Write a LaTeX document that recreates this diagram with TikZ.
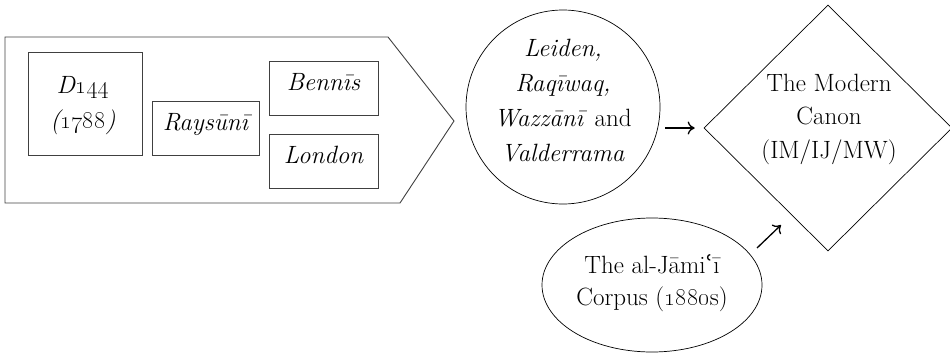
\documentclass[tikz,border=0pt]{standalone}
\usetikzlibrary{shapes.geometric,arrows.meta}
% DejaVu Serif supplies the ayn half-ring, which Latin Modern lacks
\font\aynfont="DejaVu Serif" at 25pt
\newcommand\ayn{{\aynfont ʿ}}
% old-style figures from the text-companion encoding (follows the current shape)
\newcommand\osf[1]{{\fontencoding{TS1}\selectfont #1}}
% fixed height for the first line of a multi-line label
\newcommand\topline{\rule{0pt}{19pt}}
\begin{document}
\begin{tikzpicture}[x=1pt,y=-1pt,
  font=\fontsize{25}{35}\selectfont,
  frame/.style={draw=black!75,line width=0.9pt},
  msbox/.style={frame,rectangle,inner sep=0pt,minimum height=54pt,
                text height=29pt,text depth=25pt,font=\fontsize{25}{35}\selectfont\itshape},
  outline/.style={draw=black,line width=0.7pt,inner sep=0pt},
  lbl/.style={inner sep=0pt,align=center,anchor=north},
  flow/.style={line width=1.3pt,-{Computer Modern Rightarrow[length=7pt,width=13pt]}}]
\useasboundingbox (0,0) rectangle (950,356);

% pointed frame holding the early manuscripts
\draw[frame] (5,37) -- (388,37) -- (454,121) -- (400,203) -- (5,203) -- cycle;

% manuscripts inside the frame
\node[frame,rectangle,inner sep=0pt,minimum width=114pt,minimum height=103pt] (d144) at (85,103.5) {};
\node[lbl,font=\fontsize{25}{35}\selectfont\itshape] (d144text) at (83,74)
  {\topline D\osf{144}\\(\osf{1788})};
\node[msbox,minimum width=107pt] (raysuni) at (205.5,128) {Raysūnī};
\node[msbox,minimum width=109pt] (bennis) at (323.5,88) {Bennīs};
\node[msbox,minimum width=109pt] (london) at (323.5,161.5) {London};

% later witnesses
\node[outline,circle,minimum size=194pt] (circ) at (563,107) {};
\node[lbl] (circtext) at (563,37)
  {\topline\textit{Leiden,}\\\textit{Raqīwaq,}\\\textit{Wazzānī} and\\\textit{Valderrama}};

\node[outline,diamond,minimum width=248pt,minimum height=246pt] (canon) at (828,128) {};
\node[lbl,font=\fontsize{25}{33.5}\selectfont] (canontext) at (829,72)
  {\topline The Modern\\Canon\\(IM/IJ/MW)};

\node[outline,ellipse,minimum width=220pt,minimum height=134pt] (jami) at (652,285) {};
\node[lbl,font=\fontsize{25}{32}\selectfont] (jamitext) at (652,254)
  {\topline The al-Jāmi\ayn ī\\Corpus (\osf{1880}s)};

% connectors
\draw[flow,shorten <=5pt,shorten >=9pt] (circ.east |- canon.west) -- (canon.west);
\coordinate (jamiout) at (757,248);
\coordinate (canonin) at (781,225);
\draw[flow] (jamiout) -- (canonin);
\end{tikzpicture}
\end{document}
